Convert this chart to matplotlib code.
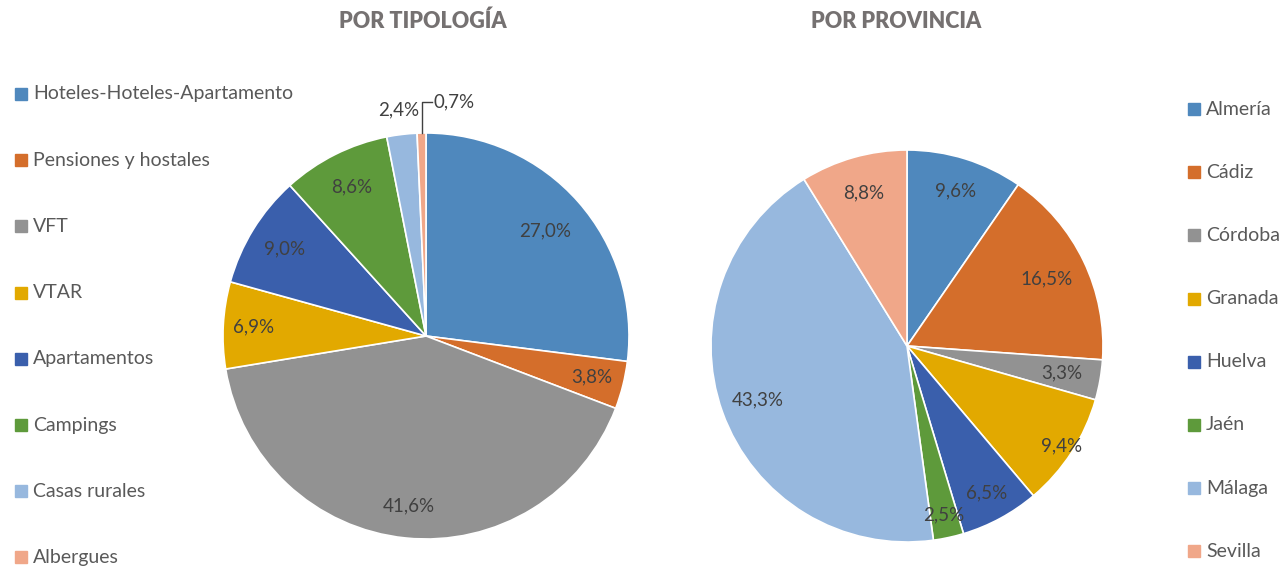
import numpy as np
import matplotlib.pyplot as plt
from matplotlib.patches import Rectangle

plt.rcParams['font.family'] = ['Lato', 'DejaVu Sans']

# data
tipologia = ['Hoteles-Hoteles-Apartamento', 'Pensiones y hostales', 'VFT', 'VTAR',
             'Apartamentos', 'Campings', 'Casas rurales', 'Albergues']
tipologia_pct = [27.0, 3.8, 41.6, 6.9, 9.0, 8.6, 2.4, 0.7]

provincias = ['Almería', 'Cádiz', 'Córdoba', 'Granada', 'Huelva', 'Jaén', 'Málaga', 'Sevilla']
provincia_pct = [9.6, 16.5, 3.3, 9.4, 6.5, 2.5, 43.3, 8.8]

colors = ['#4F88BD', '#D46E2B', '#929292', '#E2A900', '#3A5FAC', '#5E9A3B', '#97B8DE', '#F0A789']
text_col = '#404040'
legend_col = '#595959'
title_col = '#757171'

W, H = 1282, 571
fig = plt.figure(figsize=(W / 100, H / 100), dpi=100)


def pie_axes(cx, cy, r):
    return fig.add_axes([(cx - r) / W, (H - cy - r) / H, 2 * r / W, 2 * r / H])


def fmt(v):
    return f'{v:.1f}%'.replace('.', ',')


def draw_pie(ax, values, dists):
    wedges, _ = ax.pie(values, colors=colors, startangle=90, counterclock=False,
                       wedgeprops=dict(edgecolor='white', linewidth=1.2))
    ax.set_xlim(-1, 1)
    ax.set_ylim(-1, 1)
    for w, v, d in zip(wedges, values, dists):
        ang = np.deg2rad((w.theta1 + w.theta2) / 2)
        ax.text(d * np.cos(ang), d * np.sin(ang), fmt(v), ha='center', va='center',
                fontsize=13.5, color=text_col)
    return wedges


# left pie
ax1 = pie_axes(426, 336, 203)
w1 = draw_pie(ax1, tipologia_pct, [0.78, 0.84, 0.84, 0.85, 0.82, 0.82, 1.12, 0])
# last slice gets a leader line instead
ax1.texts[-1].remove()
last = w1[-1]
ang = np.deg2rad((last.theta1 + last.theta2) / 2)
x0, y0 = np.cos(ang), np.sin(ang)
ax1.plot([x0, x0, x0 + 0.05], [y0, 1.155, 1.155], color=text_col, lw=1, clip_on=False)
ax1.text(x0 + 0.06, 1.155, fmt(tipologia_pct[-1]), ha='left', va='center',
         fontsize=13.5, color=text_col)

# right pie
ax2 = pie_axes(907, 346, 196)
draw_pie(ax2, provincia_pct, [0.83, 0.79, 0.8, 0.94, 0.85, 0.88, 0.81, 0.81])

# titles
fig.text(423 / W, 1 - 21 / H, 'POR TIPOLOGÍA', ha='center', va='center',
         fontsize=15.5, fontweight='heavy', color=title_col)
fig.text(896 / W, 1 - 21 / H, 'POR PROVINCIA', ha='center', va='center',
         fontsize=15.5, fontweight='heavy', color=title_col)


# legends
def legend(labels, x, y_start, step):
    for i, lab in enumerate(labels):
        y = y_start + i * step
        fig.patches.append(Rectangle(((x - 6) / W, 1 - (y + 6) / H), 12 / W, 12 / H,
                                     transform=fig.transFigure, color=colors[i]))
        fig.text((x + 12) / W, 1 - y / H, lab, ha='left', va='center',
                 fontsize=14, color=legend_col)


legend(tipologia, 21, 94, 66.2)
legend(provincias, 1194, 109, 63.2)

fig.savefig('out.png', dpi=100)
